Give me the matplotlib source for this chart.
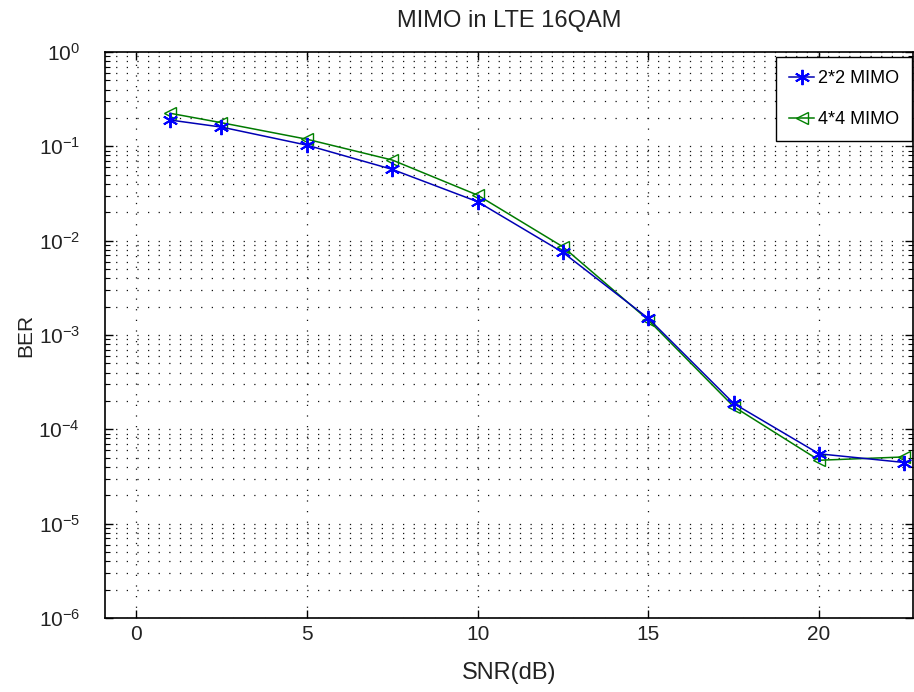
import matplotlib
matplotlib.use("Agg")
import matplotlib.pyplot as plt
from matplotlib.ticker import NullFormatter, FixedLocator

snr_db = [1, 2.5, 5, 7.5, 10, 12.5, 15, 17.5, 20, 22.5]
ber_2x2 = [0.19, 0.16, 0.103, 0.057, 0.0259, 0.0075, 0.0015, 1.88e-4, 5.5e-5, 4.45e-5]
ber_4x4 = [0.224, 0.178, 0.119, 0.0716, 0.0304, 0.0086, 0.00144, 1.74e-4, 4.7e-5, 5.1e-5]
x_ticks = [0, 5, 10, 15, 20]
y_ticks = [1e-6, 1e-5, 1e-4, 1e-3, 1e-2, 1e-1, 1e0]
series_labels = ["2*2 MIMO", "4*4 MIMO"]
title = "MIMO in LTE 16QAM"
xlabel = "SNR(dB)"
ylabel = "BER"

plt.rcParams['font.family'] = ['Liberation Sans', 'DejaVu Sans']
plt.rcParams['mathtext.default'] = 'regular'

fig = plt.figure(figsize=(9.14, 6.92), dpi=100)
ax = fig.add_axes([105/914, 1-618/692, (913-105)/914, (618-52)/692])

ax.plot(snr_db, ber_2x2, color='#0000b4', linewidth=1.1, marker=(6, 2, 0), markersize=11,
        markeredgewidth=1.4, markeredgecolor='#0000ff', label=series_labels[0], zorder=4)
ax.plot(snr_db, ber_4x4, color='#007a00', linewidth=1.1, marker='<', markersize=9,
        markerfacecolor='none', markeredgecolor='#008000', label=series_labels[1], zorder=3)

ax.set_yscale('log')
ax.set_ylim(1e-6, 1)
ax.set_xlim(-0.91, 22.75)
ax.xaxis.set_major_locator(FixedLocator(x_ticks))
ax.yaxis.set_major_locator(FixedLocator(y_ticks))
minor = [m * 10.0**e for e in range(-6, 0) for m in range(2, 10)]
ax.yaxis.set_minor_locator(FixedLocator(minor))
ax.yaxis.set_minor_formatter(NullFormatter())
ax.set_yticklabels([r'$10^{%d}$' % e for e in range(-6, 1)])

dot = (0, (1, 7.5))
ax.grid(True, which='major', axis='both', color='#111111', linestyle=dot, linewidth=0.9)
ax.grid(True, which='minor', axis='y', color='#111111', linestyle=dot, linewidth=0.9)

ax.tick_params(which='both', direction='in', top=True, right=True, colors='black',
               labelcolor='#222222')
ax.tick_params(which='major', length=6, width=1, labelsize=15)
ax.tick_params(axis='x', which='major', pad=5)
ax.tick_params(axis='y', which='major', pad=18)
ax.tick_params(which='minor', length=3.5, width=0.8)
for s in ax.spines.values():
    s.set_linewidth(1.2)
    s.set_color('black')

ax.set_title(title, fontsize=17, color='#222222', pad=18)
ax.set_xlabel(xlabel, fontsize=17, color='#222222', labelpad=13)
ax.set_ylabel(ylabel, fontsize=15, color='#222222', labelpad=2)

leg = ax.legend(loc='upper right', bbox_to_anchor=(0.9988, 0.991), borderaxespad=0,
                fontsize=13, fancybox=False, framealpha=1, edgecolor='black',
                handlelength=1.4, handletextpad=0.2, borderpad=0.72, labelspacing=1.33)
leg.get_frame().set_linewidth(1.0)

fig.savefig('out.png', dpi=100)
